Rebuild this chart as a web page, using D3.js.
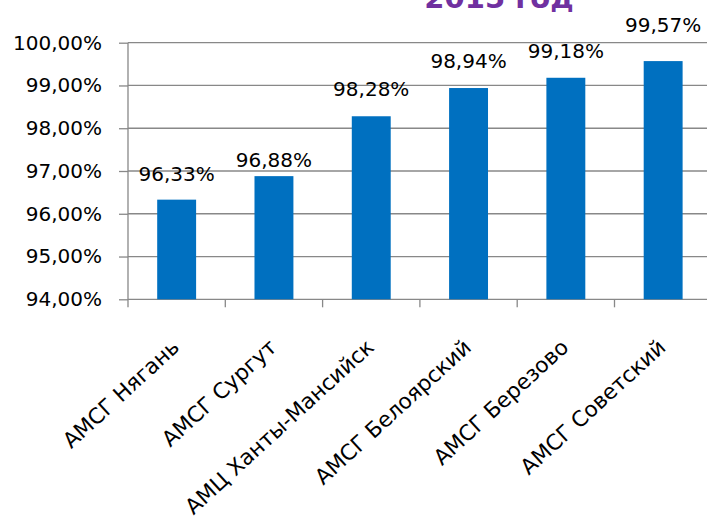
<!DOCTYPE html>
<html>
<head>
<meta charset="utf-8">
<script src="https://cdn.jsdelivr.net/npm/d3@7"></script>
<style>
  body { margin: 0; background: #fff; }
  svg { display: block; }
  text { font-family: "DejaVu Sans", sans-serif; fill: #000; }
</style>
</head>
<body>
<script>
var categories = [
  'АМСГ Нягань',
  'АМСГ Сургут',
  'АМЦ Ханты-Мансийск',
  'АМСГ Белоярский',
  'АМСГ Березово',
  'АМСГ Советский'
];
var values = [96.33, 96.88, 98.28, 98.94, 99.18, 99.57];
var yTicks = [94, 95, 96, 97, 98, 99, 100];
var titleText = '2015 год';

// labels were nudged by hand in the original, keep the lift per bar
var labelLift = [18.6, 9, 20, 19.7, 19.5, 29.4];

var W = 707, H = 519;
// plot box (window.top is taken, so no bare "top" here)
var plotL = 128, plotR = 711.8, plotT = 42.7, plotB = 299.3;
var GRID = '#888888';

var fmt = function (v) { return d3.format('.2f')(v).replace('.', ',') + '%'; };

var svg = d3.select('body').append('svg')
    .attr('width', W)
    .attr('height', H);

var x = d3.scaleBand()
    .domain(categories)
    .range([plotL, plotR])
    .paddingInner(0.6)
    .paddingOuter(0.3);

var y = d3.scaleLinear()
    .domain([94, 100])
    .range([plotB, plotT]);

// title, mostly cut off at the top edge
svg.append('text')
    .attr('x', 499)
    .attr('y', 8)
    .attr('text-anchor', 'middle')
    .style('font-size', '29px')
    .style('font-weight', 'bold')
    .style('fill', '#7030A0')
    .text(titleText);

// gridlines
svg.append('g')
  .selectAll('line')
  .data(yTicks)
  .join('line')
    .attr('x1', plotL)
    .attr('x2', plotR)
    .attr('y1', function (d) { return y(d); })
    .attr('y2', function (d) { return y(d); })
    .attr('stroke', GRID)
    .attr('stroke-width', 1.3);

// y axis
var yAxis = svg.append('g')
    .attr('transform', 'translate(' + plotL + ',0)')
    .call(d3.axisLeft(y).tickValues(yTicks).tickSize(9).tickPadding(17).tickFormat(fmt));
yAxis.select('.domain').remove();
yAxis.selectAll('.tick line').attr('stroke', GRID).attr('stroke-width', 1.3);
yAxis.selectAll('.tick text')
    .style('font-size', '20px')
    .style('font-family', '"DejaVu Sans", sans-serif')
    .attr('fill', '#000');
yAxis.append('line')
    .attr('x1', 0).attr('x2', 0)
    .attr('y1', plotT).attr('y2', plotB + 8)
    .attr('stroke', GRID)
    .attr('stroke-width', 1.3);

// x axis ticks at category boundaries
var bounds = categories.map(function (d) { return x(d) + x.bandwidth() / 2 - x.step() / 2; });
bounds.push(bounds[bounds.length - 1] + x.step());
svg.append('g')
  .selectAll('line')
  .data(bounds.slice(1))
  .join('line')
    .attr('x1', function (d) { return d; })
    .attr('x2', function (d) { return d; })
    .attr('y1', plotB)
    .attr('y2', plotB + 8)
    .attr('stroke', GRID)
    .attr('stroke-width', 1.3);

// bars
svg.append('g')
  .selectAll('rect')
  .data(values)
  .join('rect')
    .attr('x', function (d, i) { return x(categories[i]); })
    .attr('y', function (d) { return y(d); })
    .attr('width', x.bandwidth())
    .attr('height', function (d) { return y(94) - y(d); })
    .attr('fill', '#0070C0');

// value labels
svg.append('g')
  .selectAll('text')
  .data(values)
  .join('text')
    .attr('x', function (d, i) { return x(categories[i]) + x.bandwidth() / 2; })
    .attr('y', function (d, i) { return y(d) - labelLift[i]; })
    .attr('text-anchor', 'middle')
    .style('font-size', '20px')
    .text(fmt);

// category labels, rotated
svg.append('g')
  .selectAll('text')
  .data(categories)
  .join('text')
    .attr('text-anchor', 'end')
    .attr('transform', function (d) {
      return 'translate(' + (x(d) + x.bandwidth() / 2 + 4) + ',' + 349 + ') rotate(-42.5)';
    })
    .style('font-size', '21.5px')
    .text(function (d) { return d; });
</script>
</body>
</html>
